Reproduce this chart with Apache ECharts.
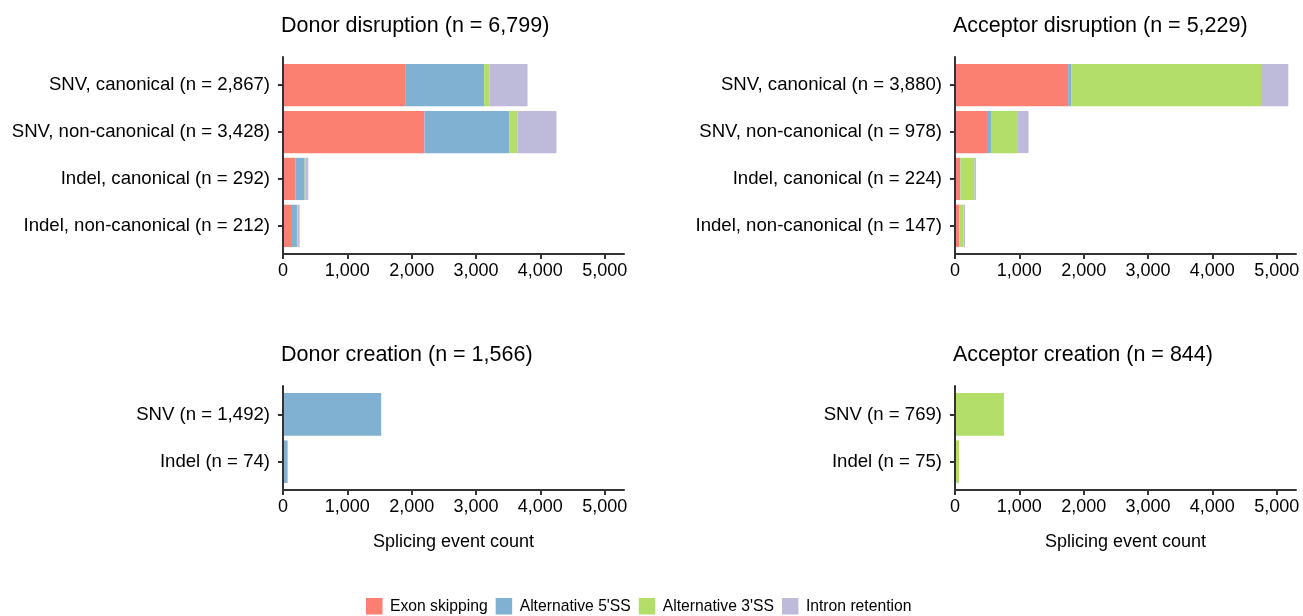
<!DOCTYPE html>
<html>
<head>
<meta charset="utf-8">
<script src="https://cdn.jsdelivr.net/npm/echarts@6/dist/echarts.min.js"></script>
<style>
  html, body { margin: 0; padding: 0; background: #ffffff; }
  #chart { width: 1303px; height: 616px; }
</style>
</head>
<body>
<div id="chart"></div>
<script>
// ---- data ----
const eventTypes = ['Exon skipping', "Alternative 5'SS", "Alternative 3'SS", 'Intron retention'];
const eventColors = ['#FB8072', '#80B1D3', '#B3DE69', '#BEBADA'];
const xTicks = [0, 1000, 2000, 3000, 4000, 5000];
const xMax = 5300;

// Donor disruption
const donorDisTitle = 'Donor disruption';
const donorDisTotal = 6799;
const donorDisCats = ['SNV, canonical', 'SNV, non-canonical', 'Indel, canonical', 'Indel, non-canonical'];
const donorDisN = [2867, 3428, 292, 212];
const donorDisExon = [1899, 2200, 197, 124];
const donorDisAlt5 = [1227, 1320, 140, 93];
const donorDisAlt3 = [84, 125, 9, 11];
const donorDisIR = [590, 605, 47, 31];

// Acceptor disruption
const accDisTitle = 'Acceptor disruption';
const accDisTotal = 5229;
const accDisCats = ['SNV, canonical', 'SNV, non-canonical', 'Indel, canonical', 'Indel, non-canonical'];
const accDisN = [3880, 978, 224, 147];
const accDisExon = [1759, 497, 82, 67];
const accDisAlt5 = [52, 62, 4, 3];
const accDisAlt3 = [2945, 419, 215, 64];
const accDisIR = [424, 165, 26, 21];

// Donor creation
const donorCreTitle = 'Donor creation';
const donorCreTotal = 1566;
const donorCreCats = ['SNV', 'Indel'];
const donorCreN = [1492, 74];
const donorCreExon = [0, 0];
const donorCreAlt5 = [1526, 72];
const donorCreAlt3 = [0, 0];
const donorCreIR = [0, 0];

// Acceptor creation
const accCreTitle = 'Acceptor creation';
const accCreTotal = 844;
const accCreCats = ['SNV', 'Indel'];
const accCreN = [769, 75];
const accCreExon = [0, 0];
const accCreAlt5 = [0, 0];
const accCreAlt3 = [761, 62];
const accCreIR = [0, 0];

// ---- layout ----
const FONT = '"Liberation Sans", Arial, Helvetica, sans-serif';
const fmt = v => Number(v).toLocaleString('en-US');
const AXIS_COLOR = '#333333';

const panels = [
  { title: donorDisTitle, total: donorDisTotal, cats: donorDisCats, n: donorDisN,
    values: [donorDisExon, donorDisAlt5, donorDisAlt3, donorDisIR],
    left: 283, width: 341, top: 57, band: 46.9, axisName: '' },
  { title: accDisTitle, total: accDisTotal, cats: accDisCats, n: accDisN,
    values: [accDisExon, accDisAlt5, accDisAlt3, accDisIR],
    left: 955, width: 341, top: 57, band: 46.9, axisName: '' },
  { title: donorCreTitle, total: donorCreTotal, cats: donorCreCats, n: donorCreN,
    values: [donorCreExon, donorCreAlt5, donorCreAlt3, donorCreIR],
    left: 283, width: 341, top: 386, band: 47.3, axisName: 'Splicing event count' },
  { title: accCreTitle, total: accCreTotal, cats: accCreCats, n: accCreN,
    values: [accCreExon, accCreAlt5, accCreAlt3, accCreIR],
    left: 955, width: 341, top: 386, band: 47.3, axisName: 'Splicing event count' }
];

const option = {
  backgroundColor: '#ffffff',
  animation: false,
  textStyle: { fontFamily: FONT },
  title: [],
  grid: [],
  xAxis: [],
  yAxis: [],
  series: [],
  legend: {
    data: eventTypes,
    left: 366,
    top: 598,
    icon: 'rect',
    itemWidth: 16.5,
    itemHeight: 16.5,
    itemGap: 8,
    padding: 0,
    textStyle: { fontFamily: FONT, fontSize: 15.7, color: '#000000', padding: [0, 0, 0, 2.5] }
  }
};

panels.forEach((p, i) => {
  const k = p.cats.length;
  const frameHeight = p.band * (k + 0.2);
  const barTop = p.top + p.band * 0.1;
  const barGrid = 2 * i;       // grid holding the bars and category labels
  const frameGrid = 2 * i + 1; // grid drawing the axis lines (with expanded range)

  option.title.push({
    text: p.title + ' (n = ' + fmt(p.total) + ')',
    left: p.left - 2,
    top: p.top - 42,
    padding: 0,
    textStyle: { fontFamily: FONT, fontSize: 21.5, fontWeight: 'normal', color: '#000000' }
  });

  option.grid.push({ left: p.left, top: barTop, width: p.width, height: p.band * k });
  option.grid.push({ left: p.left, top: p.top, width: p.width, height: frameHeight });

  // bar grid axes
  option.xAxis.push({
    type: 'value', gridIndex: barGrid, min: 0, max: xMax, show: false
  });
  option.yAxis.push({
    type: 'category', gridIndex: barGrid, inverse: true,
    data: p.cats.map((c, j) => c + ' (n = ' + fmt(p.n[j]) + ')'),
    axisLine: { show: false },
    axisTick: { show: true, alignWithLabel: true, length: 5,
      lineStyle: { color: AXIS_COLOR, width: 2 } },
    axisLabel: { margin: 13, fontFamily: FONT, fontSize: 18.6, color: '#000000' },
    splitLine: { show: false }
  });

  // frame grid axes
  option.xAxis.push({
    type: 'value', gridIndex: frameGrid, min: 0, max: xMax, z: 5,
    axisLine: { show: true, lineStyle: { color: AXIS_COLOR, width: 2 } },
    axisTick: { show: true, length: 5, customValues: xTicks,
      lineStyle: { color: AXIS_COLOR, width: 2 } },
    axisLabel: { customValues: xTicks, formatter: v => fmt(v), margin: 8,
      fontFamily: FONT, fontSize: 18, color: '#000000' },
    splitLine: { show: false },
    name: p.axisName,
    nameLocation: 'middle',
    nameGap: 43,
    nameTextStyle: { fontFamily: FONT, fontSize: 18, color: '#000000' }
  });
  option.yAxis.push({
    type: 'value', gridIndex: frameGrid, min: 0, max: 1, z: 5,
    axisLine: { show: true, onZero: false, lineStyle: { color: AXIS_COLOR, width: 2 } },
    axisTick: { show: false },
    axisLabel: { show: false },
    splitLine: { show: false }
  });

  eventTypes.forEach((name, s) => {
    option.series.push({
      type: 'bar',
      name: name,
      xAxisIndex: barGrid,
      yAxisIndex: barGrid,
      stack: 'panel' + i,
      barCategoryGap: '10%',
      itemStyle: { color: eventColors[s] },
      emphasis: { disabled: true },
      data: p.values[s]
    });
  });
});

const chart = echarts.init(document.getElementById('chart'), null, { renderer: 'canvas' });
chart.setOption(option);
</script>
</body>
</html>
